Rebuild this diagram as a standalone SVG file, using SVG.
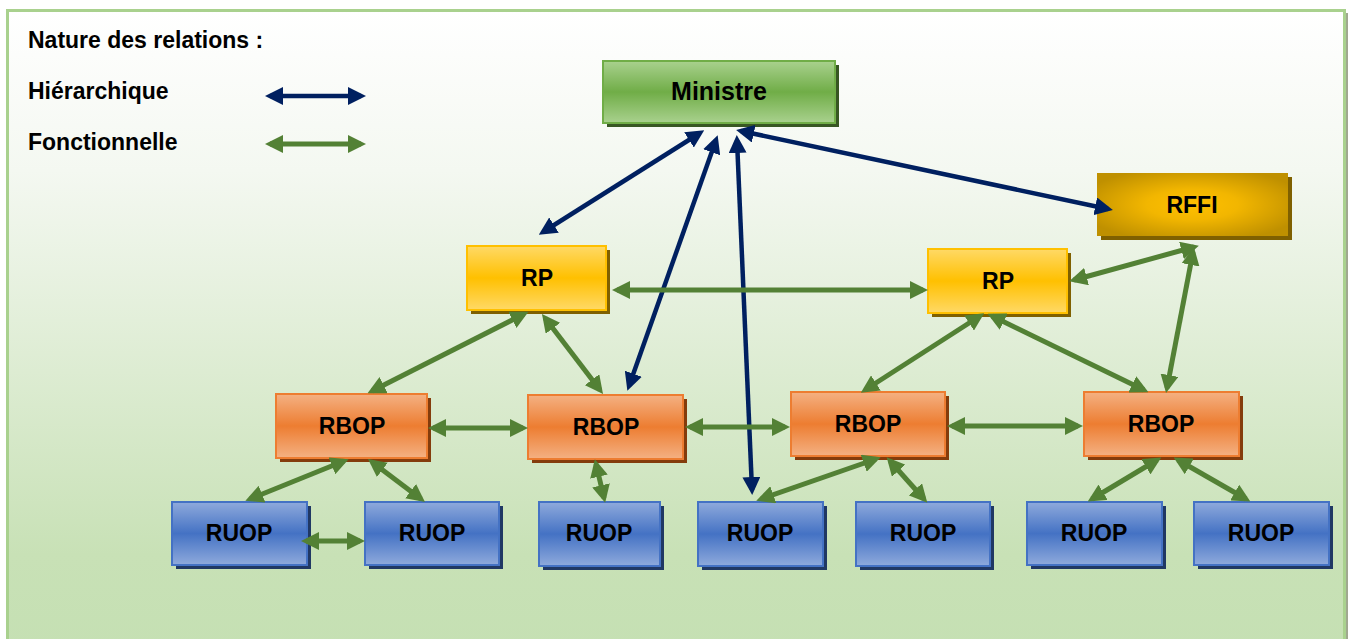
<svg xmlns="http://www.w3.org/2000/svg" width="1352" height="639" viewBox="0 0 1352 639">
<style>
text{font-family:"Liberation Sans",Arial,sans-serif;font-weight:bold;fill:#000}
.lbl{font-size:23px;text-anchor:middle}
.leg{font-size:23px}
.h{stroke:#002060;stroke-width:4.5;fill:none;marker-start:url(#ah);marker-end:url(#ah)}
.f{stroke:#538135;stroke-width:5;fill:none;marker-start:url(#af);marker-end:url(#af)}
</style>
<defs>
<linearGradient id="bg" x1="0" y1="0" x2="0" y2="1">
<stop offset="0" stop-color="#ffffff"/>
<stop offset="0.25" stop-color="#f4f8f1"/>
<stop offset="0.85" stop-color="#c8e1b6"/>
<stop offset="1" stop-color="#c5e0b3"/>
</linearGradient>
<linearGradient id="gMin" x1="0" y1="0" x2="0" y2="1">
<stop offset="0" stop-color="#a9d18e"/><stop offset="0.5" stop-color="#70ad47"/><stop offset="1" stop-color="#a9d18e"/>
</linearGradient>
<linearGradient id="gRP" x1="0" y1="0" x2="0" y2="1">
<stop offset="0" stop-color="#ffd966"/><stop offset="0.5" stop-color="#ffc000"/><stop offset="1" stop-color="#ffd966"/>
</linearGradient>
<linearGradient id="gRB" x1="0" y1="0" x2="0" y2="1">
<stop offset="0" stop-color="#f4b183"/><stop offset="0.5" stop-color="#ed7d31"/><stop offset="1" stop-color="#f4b183"/>
</linearGradient>
<linearGradient id="gRU" x1="0" y1="0" x2="0" y2="1">
<stop offset="0" stop-color="#8faadc"/><stop offset="0.5" stop-color="#4472c4"/><stop offset="1" stop-color="#8faadc"/>
</linearGradient>
<radialGradient id="gRF" cx="0.5" cy="0.5" r="0.6">
<stop offset="0" stop-color="#ffc000"/><stop offset="0.4" stop-color="#f2b600"/><stop offset="1" stop-color="#bf9000"/>
</radialGradient>
<marker id="ah" markerUnits="userSpaceOnUse" markerWidth="18" markerHeight="18" refX="13" refY="9" orient="auto-start-reverse">
<path d="M0,0 L18,9 L0,18 z" fill="#002060"/>
</marker>
<marker id="af" markerUnits="userSpaceOnUse" markerWidth="18" markerHeight="18" refX="13" refY="9" orient="auto-start-reverse">
<path d="M0,0 L18,9 L0,18 z" fill="#538135"/>
</marker>
</defs>

<g id="frame">
<rect x="1345" y="13" width="3" height="630" fill="#a0a890"/>
<rect x="7.5" y="10.5" width="1337" height="640" fill="url(#bg)" stroke="#a9d18e" stroke-width="3"/>
</g>

<g id="legend">
<text class="leg" x="28" y="48">Nature des relations :</text>
<text class="leg" x="28" y="99">Hiérarchique</text>
<text class="leg" x="28" y="150">Fonctionnelle</text>
<line class="h" x1="270" y1="96" x2="361" y2="96"/>
<line class="f" x1="270" y1="144" x2="361" y2="144"/>
</g>

<g id="ministre">
<rect x="607" y="65" width="232" height="62" fill="#385723"/>
<rect x="603" y="61" width="232" height="62" fill="url(#gMin)" stroke="#70ad47" stroke-width="2"/>
<text class="lbl" style="font-size:25px" x="719" y="100">Ministre</text>
</g>
<g id="rffi">
<rect x="1101" y="177" width="191" height="63" fill="#7f6000"/>
<rect x="1097" y="173" width="191" height="63" fill="url(#gRF)"/>
<text class="lbl" x="1192" y="213">RFFI</text>
</g>
<g id="rp1">
<rect x="471" y="250" width="139" height="64" fill="#7f6000"/>
<rect x="467" y="246" width="139" height="64" fill="url(#gRP)" stroke="#ffc000" stroke-width="2"/>
<text class="lbl" x="537" y="286">RP</text>
</g>
<g id="rp2">
<rect x="932" y="253" width="139" height="64" fill="#7f6000"/>
<rect x="928" y="249" width="139" height="64" fill="url(#gRP)" stroke="#ffc000" stroke-width="2"/>
<text class="lbl" x="998" y="289">RP</text>
</g>
<g id="rbop1">
<rect x="280" y="398" width="151" height="64" fill="#843c0c"/>
<rect x="276" y="394" width="151" height="64" fill="url(#gRB)" stroke="#ed7d31" stroke-width="2"/>
<text class="lbl" x="352" y="434">RBOP</text>
</g>
<g id="rbop2">
<rect x="532" y="399" width="155" height="64" fill="#843c0c"/>
<rect x="528" y="395" width="155" height="64" fill="url(#gRB)" stroke="#ed7d31" stroke-width="2"/>
<text class="lbl" x="606" y="435">RBOP</text>
</g>
<g id="rbop3">
<rect x="795" y="396" width="154" height="64" fill="#843c0c"/>
<rect x="791" y="392" width="154" height="64" fill="url(#gRB)" stroke="#ed7d31" stroke-width="2"/>
<text class="lbl" x="868" y="432">RBOP</text>
</g>
<g id="rbop4">
<rect x="1088" y="396" width="155" height="64" fill="#843c0c"/>
<rect x="1084" y="392" width="155" height="64" fill="url(#gRB)" stroke="#ed7d31" stroke-width="2"/>
<text class="lbl" x="1161" y="432">RBOP</text>
</g>
<g id="ruop1">
<rect x="176" y="506" width="135" height="63" fill="#203864"/>
<rect x="172" y="502" width="135" height="63" fill="url(#gRU)" stroke="#4472c4" stroke-width="2"/>
<text class="lbl" x="239" y="541">RUOP</text>
</g>
<g id="ruop2">
<rect x="369" y="506" width="134" height="63" fill="#203864"/>
<rect x="365" y="502" width="134" height="63" fill="url(#gRU)" stroke="#4472c4" stroke-width="2"/>
<text class="lbl" x="432" y="541">RUOP</text>
</g>
<g id="ruop3">
<rect x="543" y="506" width="121" height="64" fill="#203864"/>
<rect x="539" y="502" width="121" height="64" fill="url(#gRU)" stroke="#4472c4" stroke-width="2"/>
<text class="lbl" x="599" y="541">RUOP</text>
</g>
<g id="ruop4">
<rect x="702" y="506" width="125" height="64" fill="#203864"/>
<rect x="698" y="502" width="125" height="64" fill="url(#gRU)" stroke="#4472c4" stroke-width="2"/>
<text class="lbl" x="760" y="541">RUOP</text>
</g>
<g id="ruop5">
<rect x="860" y="506" width="134" height="64" fill="#203864"/>
<rect x="856" y="502" width="134" height="64" fill="url(#gRU)" stroke="#4472c4" stroke-width="2"/>
<text class="lbl" x="923" y="541">RUOP</text>
</g>
<g id="ruop6">
<rect x="1031" y="506" width="135" height="63" fill="#203864"/>
<rect x="1027" y="502" width="135" height="63" fill="url(#gRU)" stroke="#4472c4" stroke-width="2"/>
<text class="lbl" x="1094" y="541">RUOP</text>
</g>
<g id="ruop7">
<rect x="1198" y="506" width="135" height="63" fill="#203864"/>
<rect x="1194" y="502" width="135" height="63" fill="url(#gRU)" stroke="#4472c4" stroke-width="2"/>
<text class="lbl" x="1261" y="541">RUOP</text>
</g>

<g id="connectors">
<line class="h" x1="543" y1="232" x2="700" y2="133"/>
<line class="h" x1="629" y1="386" x2="716" y2="140"/>
<line class="h" x1="752" y1="490" x2="737" y2="140"/>
<line class="h" x1="1108" y1="209" x2="741" y2="131"/>

<line class="f" x1="617" y1="290" x2="923" y2="290"/>
<line class="f" x1="372" y1="391" x2="524" y2="314"/>
<line class="f" x1="600" y1="390" x2="545" y2="318"/>
<line class="f" x1="1074" y1="280" x2="1194" y2="247"/>
<line class="f" x1="1167" y1="388" x2="1193" y2="252"/>
<line class="f" x1="865" y1="390" x2="980" y2="316"/>
<line class="f" x1="1144" y1="390" x2="992" y2="316"/>
<line class="f" x1="433" y1="428" x2="523" y2="428"/>
<line class="f" x1="690" y1="427" x2="785" y2="427"/>
<line class="f" x1="952" y1="426" x2="1078" y2="426"/>
<line class="f" x1="250" y1="499" x2="344" y2="461"/>
<line class="f" x1="421" y1="499" x2="372" y2="462"/>
<line class="f" x1="604" y1="498" x2="596" y2="464"/>
<line class="f" x1="761" y1="499" x2="876" y2="459"/>
<line class="f" x1="924" y1="499" x2="890" y2="461"/>
<line class="f" x1="1092" y1="499" x2="1157" y2="460"/>
<line class="f" x1="1246" y1="499" x2="1178" y2="460"/>
<line class="f" x1="306" y1="541" x2="360" y2="541"/>
</g>
</svg>
